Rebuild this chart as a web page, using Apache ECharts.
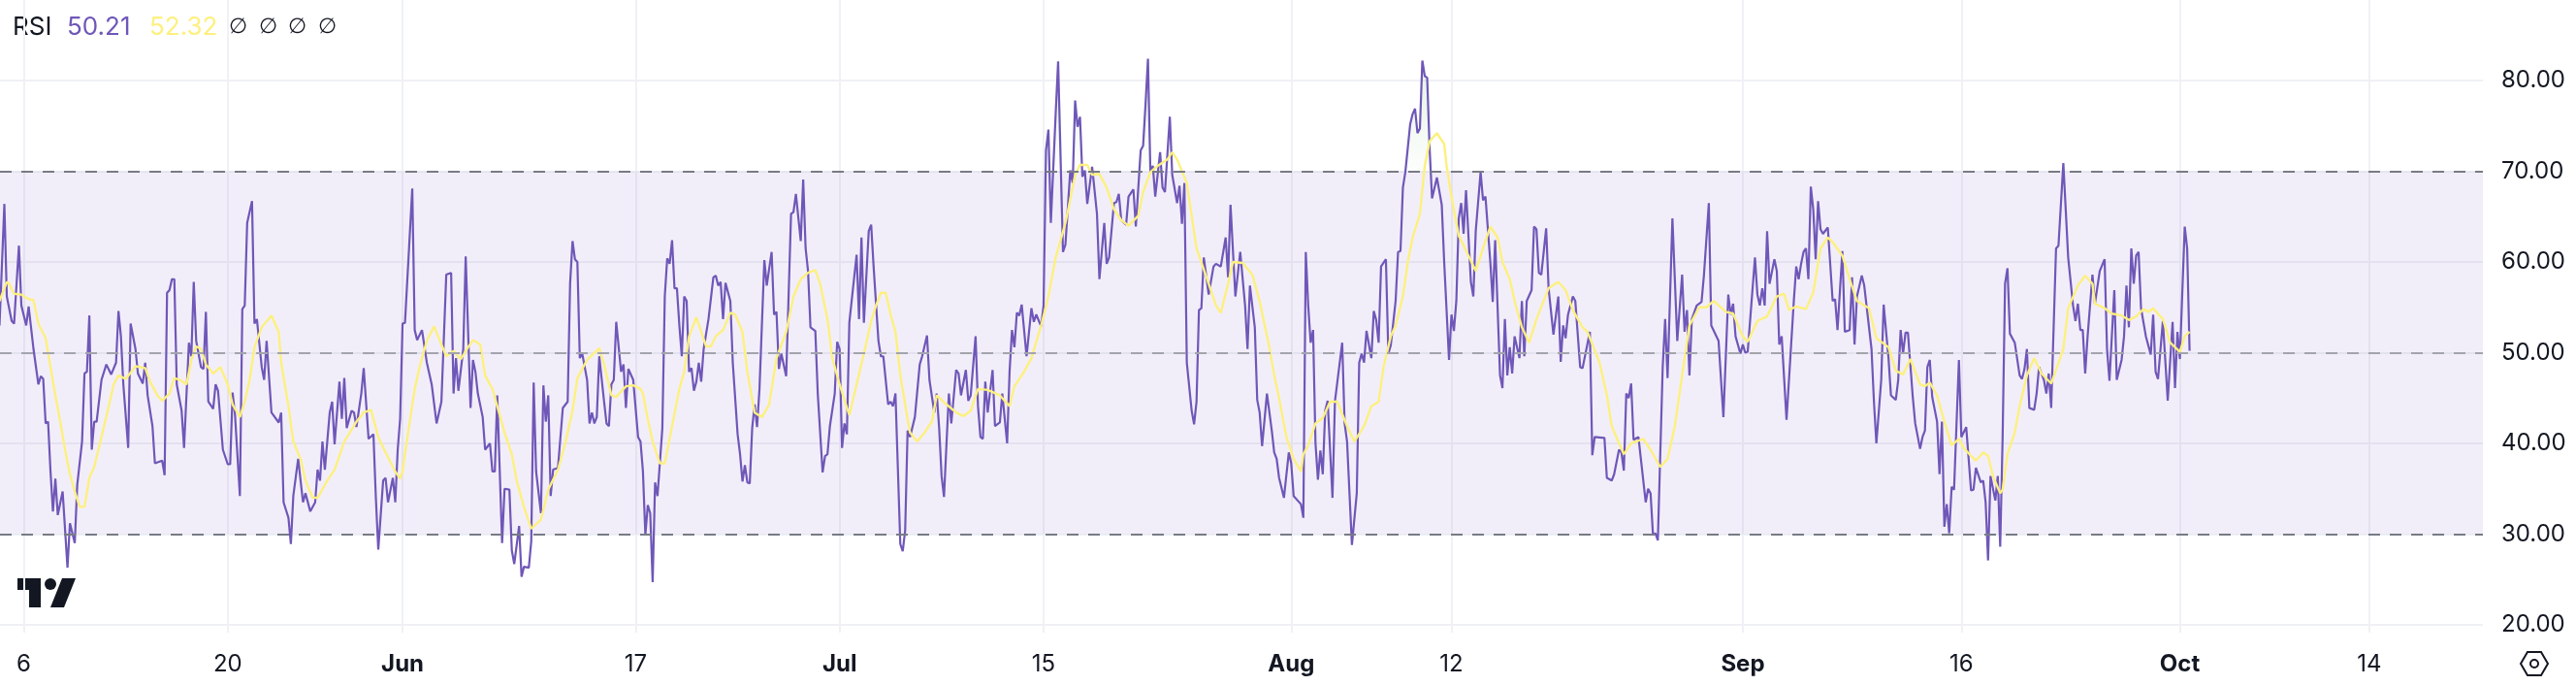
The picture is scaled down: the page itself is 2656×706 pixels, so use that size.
<!DOCTYPE html>
<html>
<head>
<meta charset="utf-8">
<style>
  html, body { margin: 0; background: #ffffff; }
  #chart { width: 2656px; height: 706px; }
</style>
<script src="https://cdn.jsdelivr.net/npm/echarts@6/dist/echarts.min.js"></script>
</head>
<body>
<div id="chart"></div>
<script>
// x values are 4h bars counted from 6 May
const tickBars = [0, 84, 156, 252, 336, 420, 522, 588, 708, 798, 888, 966];
const tickLabels = ['6', '20', 'Jun', '17', 'Jul', '15', 'Aug', '12', 'Sep', '16', 'Oct', '14'];
const monthLabels = ['Jun', 'Jul', 'Aug', 'Sep', 'Oct'];
const priceTicks = [20, 30, 40, 50, 60, 70, 80];

const rsiBars = [-10,-8,-7,-5,-4,-2,-1,1,2,4,6,7,8,9,10,11,12,13,14,16,18,19,21,22,24,25,26,27,28,29,30,32,34,36,38,39,40,41,43,44,46,47,49,50,51,53,54,57,58,59,60,61,62,63,65,66,68,69,70,71,73,74,75,76,78,79,80,82,84,85,86,87,89,90,91,92,94,95,96,98,99,100,102,105,106,107,109,110,111,113,115,116,118,120,121,122,123,124,126,127,128,130,131,132,133,135,136,137,139,140,142,144,145,146,148,149,150,152,153,154,155,156,157,160,161,162,164,166,168,170,172,174,176,177,178,179,181,182,184,185,186,187,189,190,192,193,194,195,197,198,200,201,202,204,205,206,208,209,210,211,213,214,215,216,217,218,220,222,224,225,226,227,228,229,230,232,233,234,235,236,237,239,240,241,242,243,244,246,247,248,249,251,253,
  254,255,256,257,258,259,260,261,263,264,265,266,267,268,269,270,271,272,273,274,275,276,277,278,279,280,282,284,285,286,287,288,289,291,292,294,295,296,297,298,299,300,301,302,303,305,306,308,309,310,311,312,314,316,317,318,320,321,322,323,324,326,327,329,330,331,332,334,335,336,337,338,339,340,343,344,345,346,348,349,350,352,353,354,356,357,358,359,361,362,363,364,365,367,369,370,372,373,375,376,377,378,379,381,382,384,385,386,388,389,390,392,393,394,395,396,397,399,400,402,403,405,406,407,408,409,410,411,413,415,416,417,419,420,421,422,423,425,426,428,429,431,432,433,434,435,436,437,438,440,442,443,445,446,447,449,450,451,452,454,455,457,458,460,461,462,463,464,465,466,468,469,470,472,473,475,476,477,478,479,481,482,483,484,485,486,488,490,491,493,495,496,497,499,501,503,504,505,507,508,509,510,512,514,515,516,517,
  519,521,522,523,526,527,528,529,530,531,532,533,534,535,536,537,539,540,543,544,545,547,549,550,551,552,553,555,556,557,558,559,561,562,563,565,566,567,568,569,571,572,573,574,575,576,577,578,579,580,582,584,585,587,588,589,590,591,592,593,594,596,597,598,600,601,602,604,605,606,608,609,610,611,612,613,614,616,617,618,619,621,622,623,624,625,627,628,630,632,633,634,635,636,638,639,641,642,645,646,647,651,652,654,655,657,658,659,660,661,662,663,665,666,668,669,670,671,672,673,675,676,677,679,681,683,684,685,686,687,689,691,692,694,695,698,700,702,703,704,705,707,708,709,710,713,714,715,716,717,718,719,721,722,723,724,726,729,730,731,732,733,734,735,736,737,738,739,740,741,743,745,746,747,749,750,752,753,754,755,757,758,761,762,763,765,766,768,769,771,772,773,774,775,776,778,779,781,782,
  783,784,785,786,788,789,790,791,792,793,794,795,797,798,800,802,803,804,806,807,808,809,810,812,813,814,815,816,817,818,820,822,823,824,825,826,828,829,830,832,833,834,835,837,838,840,842,844,845,846,847,848,849,850,852,853,855,857,858,859,861,862,864,865,866,867,868,869,870,871,872,874,876,877,878,879,881,883,885,886,887,888,890,891,892];
const rsiValues = [53.0,66.4,56.2,53.5,53.2,61.8,55.2,53.0,55.1,50.4,46.5,47.4,47.1,42.2,42.4,36.9,32.5,36.1,32.1,34.7,26.3,31.2,29.0,35.4,40.2,47.7,47.9,54.1,39.3,42.4,42.4,47.0,48.7,47.6,48.9,54.6,51.8,46.5,39.5,53.2,50.4,47.7,46.6,48.9,45.3,41.9,37.8,38.1,36.5,56.6,56.9,58.1,58.1,46.5,43.6,39.5,51.1,49.6,57.8,51.3,48.4,48.2,54.5,44.6,43.8,46.5,45.8,39.3,37.7,37.7,45.6,43.1,34.2,54.8,55.2,64.3,66.7,53.2,53.7,48.4,47.0,51.3,43.4,42.3,43.4,33.5,31.8,28.9,34.2,38.3,33.5,34.5,32.5,33.5,37.1,35.9,40.2,37.1,43.4,44.6,39.9,46.8,42.7,47.2,41.7,43.6,43.4,41.8,45.5,48.3,40.5,41.0,34.0,28.3,35.9,36.2,33.5,36.2,33.5,39.3,42.7,53.2,53.3,68.1,52.5,51.4,52.5,48.9,46.5,42.2,44.6,58.6,58.8,45.5,49.4,45.8,50.4,60.6,43.9,49.2,47.9,45.5,42.9,39.3,40.0,36.9,36.9,45.3,29.0,35.0,34.9,28.2,26.7,30.9,25.3,26.4,26.3,29.2,46.7,36.9,32.3,46.4,42.4,45.3,34.2,37.1,37.3,43.9,44.6,57.6,62.3,60.3,60.0,49.4,49.9,47.0,42.2,43.4,42.2,42.9,49.6,44.6,42.2,41.9,46.5,47.0,53.4,47.9,48.7,43.9,48.2,47.0,40.7,
  40.2,36.9,29.9,33.2,32.3,24.7,35.7,34.2,41.7,56.2,60.4,59.8,62.4,57.1,57.1,53.0,49.6,56.2,55.7,47.9,48.3,45.8,46.8,48.9,46.8,50.4,53.7,58.3,58.5,57.4,57.8,53.7,57.7,55.7,48.9,41.0,38.8,35.8,37.6,35.7,35.6,41.7,44.3,41.8,46.0,60.2,57.4,61.1,54.2,54.5,48.2,49.9,47.4,65.3,65.5,67.5,62.3,69.1,61.5,59.0,52.8,52.4,45.5,36.8,38.6,38.8,41.9,45.5,51.2,50.4,39.5,42.2,41.0,53.3,60.8,53.7,62.7,53.3,63.4,64.1,59.5,51.3,49.6,49.6,44.3,44.6,44.1,45.5,28.9,28.1,30.4,41.4,40.7,42.9,48.7,49.6,51.9,47.0,43.4,45.5,41.7,36.4,34.1,45.5,42.2,48.1,47.7,45.3,48.1,44.7,45.3,51.8,44.1,40.7,40.5,46.8,43.4,48.1,41.9,42.3,45.5,40.0,47.9,52.5,50.6,54.4,54.1,55.3,49.6,54.9,53.4,54.2,52.9,55.2,72.3,74.6,64.3,76.4,82.1,61.1,61.9,70.1,68.7,77.8,74.9,76.0,69.4,70.1,66.4,70.5,65.3,58.1,64.3,59.8,60.5,66.5,66.6,67.5,64.6,64.1,67.2,68.0,63.9,72.3,72.8,77.4,82.4,69.9,70.6,67.2,72.1,68.2,67.7,76.0,69.6,66.5,68.4,64.2,68.7,48.9,43.6,42.1,44.6,54.7,54.9,60.5,56.4,59.5,59.8,59.5,62.7,58.3,66.3,56.2,61.1,55.2,50.4,57.4,52.8,44.8,43.4,39.7,45.5,41.4,39.0,38.3,36.2,
  34.0,39.0,37.8,34.2,33.3,31.8,61.1,55.2,51.1,52.5,40.0,36.0,39.2,36.6,43.6,44.7,34.0,44.6,51.1,42.2,40.2,28.8,34.5,48.9,49.9,48.9,52.4,49.4,54.6,53.6,51.1,59.5,60.3,49.9,50.8,55.7,61.1,61.2,68.2,69.9,75.2,76.3,76.9,74.2,74.7,82.2,80.5,80.3,72.5,67.0,69.3,66.3,60.0,49.2,54.2,52.4,55.7,64.8,66.5,63.1,67.9,57.8,56.2,63.4,69.9,66.8,67.2,60.0,55.6,62.4,47.5,46.1,53.7,47.5,50.6,47.7,51.8,49.4,55.7,49.6,55.7,56.9,63.9,63.6,58.8,58.6,63.7,57.1,52.0,56.2,49.0,53.0,51.6,54.2,56.2,55.7,48.4,48.3,52.3,38.7,40.7,40.6,36.2,35.9,36.6,39.3,39.0,37.0,45.5,45.0,46.6,40.4,40.7,38.3,33.5,35.0,34.5,29.9,30.1,29.3,48.4,53.7,47.2,64.8,51.3,58.6,52.3,54.7,47.5,53.7,55.2,55.6,58.6,66.5,53.0,51.3,42.9,56.4,54.2,55.4,51.8,49.9,50.9,50.0,50.1,60.5,56.4,55.2,57.1,55.2,63.4,57.6,60.3,59.0,50.9,51.8,42.6,55.7,59.5,58.1,59.8,61.1,61.5,58.1,68.3,65.8,60.3,66.7,63.6,63.1,63.8,55.7,55.9,52.5,61.2,52.3,52.5,58.3,50.9,56.2,58.5,57.4,50.4,44.6,40.0,47.0,55.3,49.4,45.3,44.8,47.0,52.5,49.9,52.2,52.2,45.1,42.2,39.4,40.7,
  41.4,48.4,49.2,45.1,42.4,36.6,42.4,30.8,33.3,30.1,35.2,34.9,49.2,40.7,41.8,34.8,34.9,37.3,35.7,35.9,33.5,27.1,36.4,33.7,36.4,28.6,40.7,57.6,59.3,52.1,51.1,47.5,47.1,48.2,50.4,43.9,43.7,45.5,48.4,47.0,45.5,47.7,43.9,61.5,61.8,70.9,60.5,55.2,53.5,55.4,52.5,52.5,47.7,51.8,58.6,55.4,59.0,60.3,50.4,46.9,56.9,47.0,49.2,51.8,57.4,52.8,61.5,57.6,60.7,61.1,54.9,51.8,49.8,54.2,47.9,47.1,53.5,44.7,53.4,46.1,52.3,49.3,63.9,61.5,50.21];

const maBars = [-10,-7,-6,-4,-1,2,4,6,9,11,13,15,17,19,21,23,25,27,29,32,35,37,39,42,46,50,52,55,57,60,62,65,67,69,71,73,75,78,81,84,86,89,91,93,95,98,102,105,106,109,111,114,116,119,121,125,128,132,137,140,143,146,149,153,155,156,158,161,163,166,169,172,174,177,180,183,185,188,190,193,195,198,201,203,206,209,213,216,220,223,226,228,232,237,239,242,244,248,251,254,
  255,257,259,262,264,267,270,272,274,277,279,281,283,285,288,291,293,296,298,301,304,307,310,314,317,320,323,326,328,331,333,336,340,343,346,349,351,353,355,357,359,361,364,365,368,371,374,376,380,384,387,390,393,397,402,406,408,412,415,419,422,425,429,430,433,435,438,440,443,446,449,452,455,459,461,464,467,471,473,475,479,483,488,491,493,496,498,502,506,509,513,515,517,
  520,523,526,527,529,532,535,538,541,545,548,552,555,558,560,563,565,568,570,572,575,577,579,582,585,586,588,591,595,598,601,604,607,609,612,614,617,620,623,628,632,635,638,642,644,649,652,654,659,662,667,670,674,677,680,683,686,690,693,696,701,704,708,710,714,718,722,725,727,730,734,737,740,743,745,749,752,755,760,763,768,771,774,777,781,
  783,785,788,791,794,797,799,802,804,807,809,811,814,815,817,820,822,825,828,831,835,840,842,846,849,852,853,857,860,864,867,870,873,875,877,881,884,888,890,892];
const maValues = [55.7,57.8,57.6,56.5,56.4,55.9,55.8,53.2,51.6,48.4,45.3,42.4,39.3,36.6,34.7,33.0,33.0,36.2,37.4,40.7,44.1,46.5,47.5,47.1,48.5,48.3,46.8,45.3,44.7,45.5,47.2,46.9,46.5,49.2,50.7,50.4,48.7,47.7,48.4,46.5,44.3,42.9,44.6,47.0,50.6,52.8,54.1,52.3,48.9,44.1,40.2,38.3,35.9,34.0,34.0,35.9,37.1,40.2,42.4,43.4,43.7,40.7,39.0,36.9,36.1,36.9,40.7,46.0,48.4,51.3,52.9,50.9,49.6,50.2,49.3,50.6,51.4,50.9,47.5,46.0,44.1,41.2,38.8,35.9,33.0,30.6,31.6,34.9,37.1,40.0,43.6,47.2,49.2,50.5,48.7,45.3,45.1,46.3,46.4,46.0,
  45.5,42.7,40.2,37.8,37.8,41.9,46.0,47.9,51.8,53.9,52.3,50.7,50.7,51.8,52.5,54.4,54.2,52.3,47.9,43.4,42.9,44.3,49.4,52.3,56.2,58.1,58.8,59.1,57.6,53.7,49.4,46.5,43.1,46.5,49.9,53.5,55.2,56.6,56.6,54.2,52.3,47.5,42.7,41.2,40.2,41.2,42.4,45.3,44.3,43.4,43.0,43.6,46.0,45.9,45.3,44.1,46.3,47.9,49.4,53.0,56.2,60.5,64.3,65.6,69.6,70.7,70.7,69.6,69.7,68.2,65.8,64.6,64.0,65.1,67.7,69.9,70.6,71.3,72.1,71.3,68.7,61.5,57.6,55.2,54.4,57.6,60.0,59.9,58.6,55.7,50.6,47.5,45.0,
  40.7,38.3,36.9,38.8,39.8,42.2,42.8,44.6,44.6,41.9,40.2,41.9,44.1,44.6,48.4,51.8,53.0,56.2,60.0,62.7,65.3,70.6,73.3,74.2,73.0,70.6,67.2,62.9,60.7,59.0,61.5,63.9,62.7,60.0,58.1,55.7,52.8,51.1,53.7,57.1,57.8,56.9,54.7,52.8,52.3,48.9,45.3,41.9,38.8,40.0,40.5,39.3,37.4,38.3,41.9,47.5,53.0,55.0,55.0,55.7,54.5,54.3,51.8,51.2,53.5,54.0,56.2,56.5,54.7,55.1,54.8,56.6,61.5,62.7,62.2,60.7,58.1,55.7,54.9,51.6,50.6,48.0,47.6,49.3,46.5,
  46.3,46.7,45.3,42.4,39.8,40.5,39.5,38.6,38.1,39.0,38.6,36.4,34.5,34.9,38.8,41.2,44.1,47.5,49.4,47.7,46.6,50.4,54.9,57.4,58.5,57.6,55.4,54.9,54.3,54.1,53.6,54.0,54.8,54.5,54.9,53.7,51.1,50.1,51.8,52.32];

const chart = echarts.init(document.getElementById('chart'));
const FONT = 'Inter';
const INK = '#131722';
const RSI_COLOR = '#6f57b8';
const MA_COLOR = '#fdf07f';
const GRID_COLOR = '#f0f1f5';

const rsiLine = rsiBars.map((b, i) => [b, rsiValues[i]]);
const maLine = maBars.map((b, i) => [b, maValues[i]]);
// only the part above the band gets the soft fill
const overLine = rsiBars.map((b, i) => [b, Math.max(rsiValues[i], 70)]);

function guide(value, color) {
  return {
    yAxis: value,
    lineStyle: { color: color, type: [12, 10], width: 2 }
  };
}

function legendText(text, x, color, font) {
  return {
    type: 'text',
    x: x,
    y: 28,
    style: { text: text, fill: color, font: font || '26px ' + FONT, textVerticalAlign: 'middle' }
  };
}

const option = {
  backgroundColor: '#ffffff',
  animation: false,
  grid: { left: 0, right: 96, top: 0, bottom: 54 },
  xAxis: {
    type: 'value',
    min: -9.8,
    max: 1012.8,
    axisLine: { show: false },
    axisTick: { show: false, customValues: tickBars },
    splitLine: { show: true, lineStyle: { color: GRID_COLOR, width: 2 } },
    axisLabel: {
      customValues: tickBars,
      margin: 21,
      color: INK,
      fontFamily: FONT,
      fontSize: 24,
      formatter: function (v) {
        const label = tickLabels[tickBars.indexOf(v)];
        return monthLabels.includes(label) ? '{m|' + label + '}' : label;
      },
      rich: { m: { fontFamily: FONT, fontSize: 24, fontWeight: 700, color: INK } }
    }
  },
  yAxis: {
    type: 'value',
    position: 'right',
    min: 19.14,
    max: 88.88,
    axisLine: { show: false },
    axisTick: { show: false, customValues: priceTicks },
    splitLine: { show: true, lineStyle: { color: GRID_COLOR, width: 2 } },
    axisLabel: {
      customValues: priceTicks,
      margin: 19,
      padding: [5, 0, 0, 0],
      color: INK,
      fontFamily: FONT,
      fontSize: 24,
      formatter: function (v) { return v.toFixed(2); }
    }
  },
  series: [
    {
      type: 'line',
      data: overLine,
      symbol: 'none',
      silent: true,
      z: 1,
      lineStyle: { width: 0 },
      areaStyle: {
        origin: 70,
        color: new echarts.graphic.LinearGradient(0, 0, 0, 1, [
          { offset: 0, color: 'rgba(76, 175, 80, 0.22)' },
          { offset: 1, color: 'rgba(76, 175, 80, 0.02)' }
        ])
      }
    },
    {
      name: 'RSI',
      type: 'line',
      data: rsiLine,
      symbol: 'none',
      z: 3,
      lineStyle: { color: RSI_COLOR, width: 2.2 },
      markArea: {
        silent: true,
        itemStyle: { color: 'rgba(126, 87, 194, 0.1)' },
        data: [[{ yAxis: 30 }, { yAxis: 70 }]]
      },
      markLine: {
        silent: true,
        symbol: 'none',
        label: { show: false },
        data: [guide(70, '#787b86'), guide(50, '#a3a4ad'), guide(30, '#787b86')]
      }
    },
    {
      name: 'RSI MA',
      type: 'line',
      data: maLine,
      symbol: 'none',
      z: 4,
      lineStyle: { color: MA_COLOR, width: 2.4 }
    }
  ],
  graphic: [
    legendText('RSI', 13, INK),
    legendText('50.21', 69, RSI_COLOR),
    legendText('52.32', 154, MA_COLOR),
    legendText('∅', 236, INK, '22px "DejaVu Sans"'),
    legendText('∅', 267, INK, '22px "DejaVu Sans"'),
    legendText('∅', 297, INK, '22px "DejaVu Sans"'),
    legendText('∅', 328, INK, '22px "DejaVu Sans"'),
    // logo
    { type: 'polygon', shape: { points: [[18, 596], [42, 596], [42, 626], [30, 626], [30, 608], [18, 608]] }, style: { fill: INK } },
    { type: 'circle', shape: { cx: 52, cy: 602, r: 6 }, style: { fill: INK } },
    { type: 'polygon', shape: { points: [[64, 596], [78, 596], [66, 626], [52, 626]] }, style: { fill: INK } },
    // settings hexagon
    { type: 'polygon', shape: { points: [[2599, 684], [2606, 672], [2620, 672], [2627, 684], [2620, 696], [2606, 696]] }, style: { fill: 'none', stroke: INK, lineWidth: 2 } },
    { type: 'circle', shape: { cx: 2613, cy: 684, r: 4 }, style: { fill: 'none', stroke: INK, lineWidth: 2 } }
  ]
};

chart.setOption(option);
</script>
</body>
</html>
